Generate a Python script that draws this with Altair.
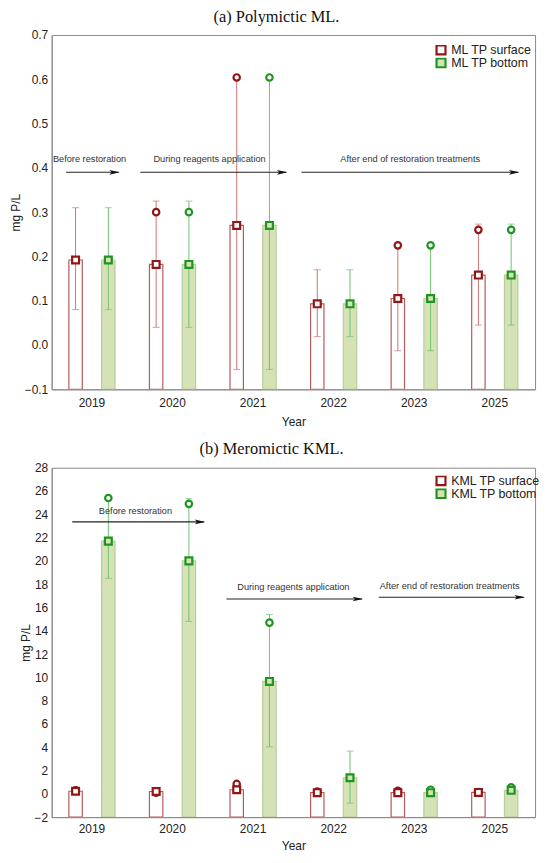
import altair as alt
import pandas as pd

years = ["2019", "2020", "2021", "2022", "2023", "2025"]

# ---- panel (a): Polymictic ML ----
ml_series = ["ML TP surface", "ML TP bottom"]
ml_surf_mean = [0.192, 0.182, 0.270, 0.093, 0.105, 0.158]
ml_surf_lo = [0.080, 0.040, -0.055, 0.019, -0.013, 0.045]
ml_surf_hi = [0.310, 0.325, 0.604, 0.170, 0.225, 0.273]
ml_surf_circ = [None, 0.300, 0.604, None, 0.225, 0.260]
ml_bot_mean = [0.192, 0.182, 0.270, 0.093, 0.105, 0.158]
ml_bot_lo = [0.080, 0.040, -0.055, 0.019, -0.013, 0.045]
ml_bot_hi = [0.310, 0.325, 0.604, 0.170, 0.225, 0.273]
ml_bot_circ = [None, 0.300, 0.604, None, 0.225, 0.260]

# ---- panel (b): Meromictic KML ----
kml_series = ["KML TP surface", "KML TP bottom"]
kml_surf_mean = [0.22, 0.20, 0.35, 0.10, 0.10, 0.12]
kml_surf_lo = [None, None, None, None, None, None]
kml_surf_hi = [None, None, None, None, None, None]
kml_surf_circ = [0.30, 0.10, 0.85, 0.20, 0.25, 0.15]
kml_bot_mean = [21.7, 20.0, 9.65, 1.38, 0.10, 0.30]
kml_bot_lo = [18.5, 14.8, 4.03, -0.80, None, None]
kml_bot_hi = [25.4, 25.35, 15.4, 3.67, None, None]
kml_bot_circ = [25.4, 24.9, 14.7, None, 0.35, 0.55]

# ---- period annotations (x in category units 0..6) ----
ml_ann_text = ["Before restoration", "During reagents application", "After end of restoration treatments"]
ml_ann_tx = [0.47, 1.96, 4.45]
ml_ann_ty = [0.42, 0.42, 0.42]
ml_arr_x1 = [0.18, 1.10, 3.10]
ml_arr_x2 = [0.83, 2.91, 5.79]
ml_arr_y = [0.39, 0.39, 0.39]

kml_ann_text = ["Before restoration", "During reagents application", "After end of restoration treatments"]
kml_ann_tx = [1.04, 3.00, 4.94]
kml_ann_ty = [24.3, 17.8, 17.85]
kml_arr_x1 = [0.255, 2.17, 4.06]
kml_arr_x2 = [1.89, 3.85, 5.86]
kml_arr_y = [23.35, 16.73, 16.88]

BAR_FILL = ["#ffffff", "#d4e2b6"]
BAR_STROKE = ["#b45a5a", "#b9cc9c"]
MARK_STROKE = ["#921616", "#1e951e"]
MARK_FILL = ["#ffffff", "#d4e2b6"]
WHISK = ["#cc7474", "#72c172"]
OFFSETS = [-16.5, 16.5]

ARROW_PATH = "M -1 -0.45 L 1 0 L -1 0.45 L -0.55 0 Z"
PLOT_W = 487


def build_df(series, cols):
    rows = []
    for s, (mean, lo, hi, circ) in zip(series, cols):
        for i, y in enumerate(years):
            rows.append({"year": y, "series": s, "mean": mean[i], "lo": lo[i],
                         "hi": hi[i], "circ": circ[i]})
    return pd.DataFrame(rows)


def panel(df, series, ydom, yvals, yfmt, title, ann, arr, legend_xy, height, dx, lpad, tpad):
    x = alt.X("year:N", sort=years, title="Year",
              scale=alt.Scale(paddingInner=0, paddingOuter=0),
              axis=alt.Axis(labelAngle=0, ticks=False, labelPadding=lpad, titlePadding=tpad))
    ysc = alt.Scale(domain=ydom, nice=False, zero=False)
    yax = alt.Axis(values=yvals, format=yfmt, ticks=False, labelPadding=4,
                   title="mg P/L", titlePadding=2)

    base = alt.Chart(df)
    layers = []
    for k, s in enumerate(series):
        off = OFFSETS[k]
        d = base.transform_filter(alt.datum.series == s)
        layers.append(d.mark_bar(width=13.5, xOffset=off, fill=BAR_FILL[k], stroke=BAR_STROKE[k],
                                 strokeWidth=1.2, clip=True).encode(
            x=x, y=alt.Y("mean:Q", scale=ysc, axis=yax), y2=alt.datum(ydom[0])))
    for k, s in enumerate(series):
        off = OFFSETS[k]
        d = base.transform_filter(alt.datum.series == s).transform_filter("isValid(datum.lo)")
        layers.append(d.mark_rule(xOffset=off, color=WHISK[k], strokeWidth=1).encode(
            x=x, y=alt.Y("lo:Q", scale=ysc, axis=yax), y2="hi:Q"))
        layers.append(d.mark_tick(xOffset=off, color=WHISK[k], size=7, thickness=1).encode(
            x=x, y=alt.Y("lo:Q", scale=ysc, axis=yax)))
        layers.append(d.mark_tick(xOffset=off, color=WHISK[k], size=7, thickness=1).encode(
            x=x, y=alt.Y("hi:Q", scale=ysc, axis=yax)))
    for k, s in enumerate(series):
        off = OFFSETS[k]
        d = base.transform_filter(alt.datum.series == s).transform_filter("isValid(datum.circ)")
        layers.append(d.mark_point(xOffset=off, shape="circle", size=42, strokeWidth=2.2,
                                   filled=False, stroke=MARK_STROKE[k], fill="white",
                                   fillOpacity=1, opacity=1).encode(
            x=x, y=alt.Y("circ:Q", scale=ysc, axis=yax)))
    cs_fill = alt.Scale(domain=series, range=MARK_FILL)
    cs_stroke = alt.Scale(domain=series, range=MARK_STROKE)
    for k, s in enumerate(series):
        off = OFFSETS[k]
        d = base.transform_filter(alt.datum.series == s)
        layers.append(d.mark_point(xOffset=off, shape="square", size=48, strokeWidth=2.2,
                                   fillOpacity=1, opacity=1).encode(
            x=x, y=alt.Y("mean:Q", scale=ysc, axis=yax),
            fill=alt.Fill("series:N", scale=cs_fill, title=None,
                          legend=alt.Legend(orient="none", legendX=legend_xy[0],
                                            legendY=legend_xy[1], symbolType="square",
                                            symbolSize=81, symbolStrokeWidth=2.2,
                                            labelFontSize=12.5, labelFont="Liberation Sans",
                                            labelColor="#222222", rowPadding=0, clipHeight=10,
                                            labelOffset=4, padding=0)),
            stroke=alt.Stroke("series:N", scale=cs_stroke, title=None),
        ))
    data_layer = alt.layer(*layers)

    adf = pd.DataFrame({"text": ann[0], "tx": ann[1], "ty": ann[2]})
    rdf = pd.DataFrame({"x1": arr[0], "x2": arr[1], "y": arr[2]})
    ax_sc = alt.Scale(domain=[0, 6], nice=False, zero=False)
    texts = alt.Chart(adf).mark_text(fontSize=9.3, font="Liberation Sans", color="#333333",
                                     baseline="middle").encode(
        x=alt.X("tx:Q", scale=ax_sc, axis=None),
        y=alt.Y("ty:Q", scale=ysc, axis=yax),
        text="text:N",
    )
    lines = alt.Chart(rdf).mark_rule(color="#222222", strokeWidth=1.1).encode(
        x=alt.X("x1:Q", scale=ax_sc, axis=None),
        x2="x2:Q",
        y=alt.Y("y:Q", scale=ysc, axis=yax),
    )
    heads = alt.Chart(rdf).mark_point(shape=ARROW_PATH, size=110, filled=True, color="#111111",
                                      opacity=1, xOffset=-4).encode(
        x=alt.X("x2:Q", scale=ax_sc, axis=None),
        y=alt.Y("y:Q", scale=ysc, axis=yax),
    )
    ann_layer = alt.layer(lines, heads, texts)

    return alt.layer(data_layer, ann_layer).resolve_scale(x="independent").properties(
        width=PLOT_W, height=height,
        title=alt.TitleParams(title, font="Liberation Serif", fontSize=16.5, fontWeight="normal",
                              color="#111111", anchor="middle", dx=dx, offset=4),
    )


ml_df = build_df(ml_series, [(ml_surf_mean, ml_surf_lo, ml_surf_hi, ml_surf_circ),
                             (ml_bot_mean, ml_bot_lo, ml_bot_hi, ml_bot_circ)])
kml_df = build_df(kml_series, [(kml_surf_mean, kml_surf_lo, kml_surf_hi, kml_surf_circ),
                               (kml_bot_mean, kml_bot_lo, kml_bot_hi, kml_bot_circ)])

top = panel(ml_df, ml_series, [-0.1, 0.7], [round(-0.1 + 0.1 * i, 1) for i in range(9)], ".1f",
            "(a) Polymictic ML.",
            (ml_ann_text, ml_ann_tx, ml_ann_ty), (ml_arr_x1, ml_arr_x2, ml_arr_y),
            (386, 10), 357, -17, 8, 8)
bottom = panel(kml_df, kml_series, [-2, 28], list(range(-2, 29, 2)), "d",
               "(b) Meromictic KML.",
               (kml_ann_text, kml_ann_tx, kml_ann_ty), (kml_arr_x1, kml_arr_x2, kml_arr_y),
               (386, 8), 352, -22, 7, 6)

chart = alt.vconcat(top, bottom, spacing=13).resolve_scale(
    fill="independent", stroke="independent"
).properties(
    padding={"left": 0, "top": -3, "right": 0, "bottom": 0},
    autosize=alt.AutoSizeParams(type="pad"),
).configure_view(
    stroke="#8a8a8a", strokeWidth=1
).configure_axis(
    domainColor="#8a8a8a", labelFont="Liberation Sans", labelFontSize=12, labelColor="#222222",
    titleFont="Liberation Sans", titleFontSize=12, titleFontWeight="normal", titleColor="#222222",
    grid=False,
)

chart.save("out.html", embed_options={"renderer": "svg", "actions": False})
